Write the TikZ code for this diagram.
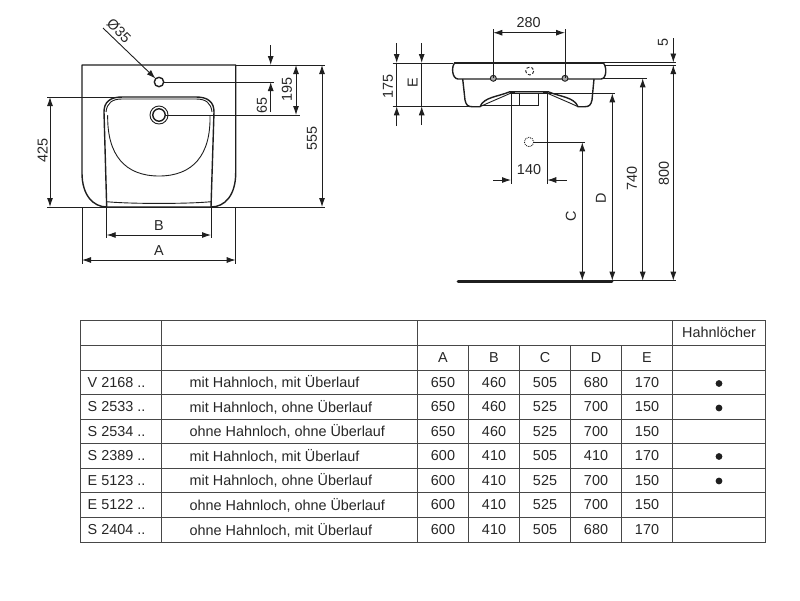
\documentclass[tikz,border=0pt]{standalone}
\usepackage{fontspec}
\setmainfont{Liberation Sans}
\usepackage{tikz}
\usetikzlibrary{arrows.meta}

\begin{document}
\begin{tikzpicture}[x=1pt, y=-1pt, line width=0.8pt, color=black!88,
  >={Latex[length=9pt,width=6pt]},
  every node/.style = {font=\fontsize{14.4}{16}\selectfont, inner sep=0pt, text=black!85},
  body/.style = {line width=1.4pt, line join=round},
  thinline/.style = {line width=0.9pt},
  gridline/.style = {line width=1pt, color=black!72},
  sideways/.style = {rotate=90}]
  \useasboundingbox (0,0) rectangle (800,600);

  % top view
  \draw[body] (82,173) -- (82,65) -- (235.7,65) -- (235.7,173)
    .. controls (235.7,195) and (225,207) .. (211,207) -- (107,207)
    .. controls (93,207) and (82,195) .. (82,173);
  \draw[body] (106.7,207) -- (104,112)
    .. controls (104,102) and (110,97) .. (122,97) -- (196,97)
    .. controls (208,97) and (214,102) .. (214,112) -- (211,207);
  \draw[thinline] (106,112) .. controls (107,103) and (112,99) .. (122,99) -- (196,99)
    .. controls (206,99) and (211,103) .. (212,112);
  \draw[thinline] (107.7,115) .. controls (107,155) and (125,176) .. (159,176)
    .. controls (193,176) and (211,155) .. (210,115);
  \draw[thinline] (106.7,201.7) .. controls (130,204) and (188,204) .. (211,201.7);
  \draw[body] (159,82) circle (4.7);
  \draw[thinline] (159,115) circle (9);
  \draw[body] (159,115) circle (6.2);

  % top view, dimensions
  \draw[thinline] (163.7,82) -- (274,82);
  \draw[thinline] (165,115) -- (300,115);
  \draw[thinline] (235.7,65) -- (325,65);
  \draw[thinline] (47,207) -- (325,207);
  \draw[thinline] (47,97) -- (122,97);
  \draw[thinline] (82,207) -- (82,264);
  \draw[thinline] (235.7,207) -- (235.7,264);
  \draw[thinline] (106.7,207) -- (106.7,238);
  \draw[thinline] (211,207) -- (211,238);
  \draw[thinline,->] (103,28) -- (155.5,78.5);
  \draw[thinline,->] (270.7,45) -- (270.7,65);
  \draw[thinline,->] (270.7,112) -- (270.7,82);
  \draw[thinline,<->] (296,65) -- (296,115);
  \draw[thinline,<->] (322,65) -- (322,207);
  \draw[thinline,<->] (50,97) -- (50,207);
  \draw[thinline,<->] (106.7,235) -- (211,235);
  \draw[thinline,<->] (82,260) -- (235.7,260);
  \node[rotate=-45] (dia) at (119,31) {Ø35};
  \node[sideways] (h65) at (262,105) {65};
  \node[sideways] (h195) at (287,89) {195};
  \node[sideways] (h555) at (312,138) {555};
  \node[sideways] (h425) at (42.7,150) {425};
  \node (lblB) at (159,226) {B};
  \node (lblA) at (159,251) {A};

  % side view
  \draw[line width=2.2pt] (454,62.7) -- (603,62.7);
  \draw[body] (455,62.7) .. controls (451,66) and (452,79) .. (458,79) -- (601,79)
    .. controls (607,79) and (607,66) .. (603,62.7);
  \draw[body] (462.7,79) -- (465,100) .. controls (466,105) and (468,106.7) .. (472,106.7) -- (480,106.7)
    .. controls (484,97) and (497,97) .. (510,91.7);
  \draw[body] (594,79) -- (592,100) .. controls (591,105) and (589,106.7) .. (585,106.7) -- (578,106.7)
    .. controls (574,97) and (561,97) .. (548,91.7);
  \draw[thinline] (480,106.7) .. controls (490,102) and (500,98) .. (511,93);
  \draw[thinline] (578,106.7) .. controls (568,102) and (558,98) .. (547,93);
  \draw[line width=2.6pt] (510,92.5) -- (548,92.5);
  \draw[line width=1.8pt, color=black!40] (515,92.5) -- (543,92.5);
  \draw[thinline] (519,94) -- (519,105) -- (538,105) -- (538,94);
  \draw[thinline, fill=black!35] (493.3,78.3) circle (3);
  \draw[thinline, fill=black!35] (565,78.3) circle (3);
  \draw[thinline, densely dashed] (529.7,71) circle (4);
  \draw[thinline, densely dotted] (529,142) circle (4.7);
  \draw[line width=2.8pt, line cap=round] (458,281.3) -- (612,281.3);

  % side view, dimensions
  \draw[thinline] (392.7,63) -- (453,63);
  \draw[thinline] (603,62.7) -- (675.7,62.7);
  \draw[thinline] (605,65) -- (675.7,65);
  \draw[thinline] (392.7,106.3) -- (420,106.3);
  \draw[line width=1.4pt] (420,106.3) -- (470,106.3);
  \draw[thinline] (480,105.5) -- (519,105.5);
  \draw[thinline] (601,78.3) -- (646.7,78.3);
  \draw[thinline] (548,93.3) -- (615,93.3);
  \draw[thinline] (534,142.3) -- (585,142.3);
  \draw[thinline] (612,280.7) -- (675.7,280.7);
  \draw[thinline] (493.3,29) -- (493.3,78);
  \draw[thinline] (565,29) -- (565,78);
  \draw[thinline] (511,92) -- (511,184);
  \draw[thinline] (547.3,92) -- (547.3,184);
  \draw[thinline,<->] (493.3,32.7) -- (565,32.7);
  \draw[thinline,->] (493.3,180) -- (511,180);
  \draw[thinline,->] (566.7,180) -- (547.3,180);
  \draw[thinline,->] (673.3,38) -- (673.3,62.5);
  \draw[thinline,<->] (673.3,65) -- (673.3,280.7);
  \draw[thinline,<->] (642.7,78.3) -- (642.7,280.7);
  \draw[thinline,<->] (612.3,93.3) -- (612.3,280.7);
  \draw[thinline,<->] (582.3,142.3) -- (582.3,280.7);
  \draw[thinline,->] (396.7,43) -- (396.7,63);
  \draw[thinline,->] (396.7,126) -- (396.7,106.3);
  \draw[thinline,->] (421.7,43) -- (421.7,63);
  \draw[thinline,->] (421.7,125) -- (421.7,106.3);
  \draw[thinline] (396.7,63) -- (396.7,106.3);
  \draw[thinline] (421.7,63) -- (421.7,106.3);
  \node (w280) at (528.7,23) {280};
  \node (w140) at (529,170) {140};
  \node[sideways] (h5) at (663,42) {5};
  \node[sideways] (h800) at (664,173) {800};
  \node[sideways] (h740) at (632,178) {740};
  \node[sideways] (lblD) at (601,198) {D};
  \node[sideways] (lblC) at (571,216.7) {C};
  \node[sideways] (h175) at (388,86) {175};
  \node[sideways] (lblE) at (412.7,83) {E};

  % table
  \draw[gridline] (80,320) rectangle (765,542.3);
  \foreach \y in {345,370,394.7,419,443.7,468.3,492.7,517.7}
    \draw[gridline] (80,\y) -- (765,\y);
  \foreach \x in {161.7,417.3,672.7}
    \draw[gridline] (\x,320) -- (\x,542.3);
  \foreach \x in {468.3,519.3,570.7,621.7}
    \draw[gridline] (\x,345) -- (\x,542.3);

  \node (holes) at (719,332.5) {Hahnlöcher};
  \foreach \x/\name in {443/A,494/B,545/C,596/D,647/E}
    \node (col\name) at (\x,358) {\name};

  \foreach \y/\code/\what/\a/\b/\c/\d/\e [count=\i] in {
      382.5/V 2168 ../{mit Hahnloch, mit Überlauf}/650/460/505/680/170,
      407/S 2533 ../{mit Hahnloch, ohne Überlauf}/650/460/525/700/150,
      431.5/S 2534 ../{ohne Hahnloch, ohne Überlauf}/650/460/525/700/150,
      456/S 2389 ../{mit Hahnloch, mit Überlauf}/600/410/505/410/170,
      480.5/E 5123 ../{mit Hahnloch, ohne Überlauf}/600/410/525/700/150,
      505/E 5122 ../{ohne Hahnloch, ohne Überlauf}/600/410/525/700/150,
      530/S 2404 ../{ohne Hahnloch, mit Überlauf}/600/410/505/680/170} {
    \node[anchor=west] (code\i) at (87.3,\y) {\code};
    \node[anchor=west] (what\i) at (189.3,\y) {\what};
    \node (a\i) at (443,\y) {\a};
    \node (b\i) at (494,\y) {\b};
    \node (c\i) at (545,\y) {\c};
    \node (d\i) at (596,\y) {\d};
    \node (e\i) at (647,\y) {\e};
  }
  \foreach \y in {383.5,408,456.5,481}
    \fill (719,\y) circle (3.4);
\end{tikzpicture}
\end{document}
